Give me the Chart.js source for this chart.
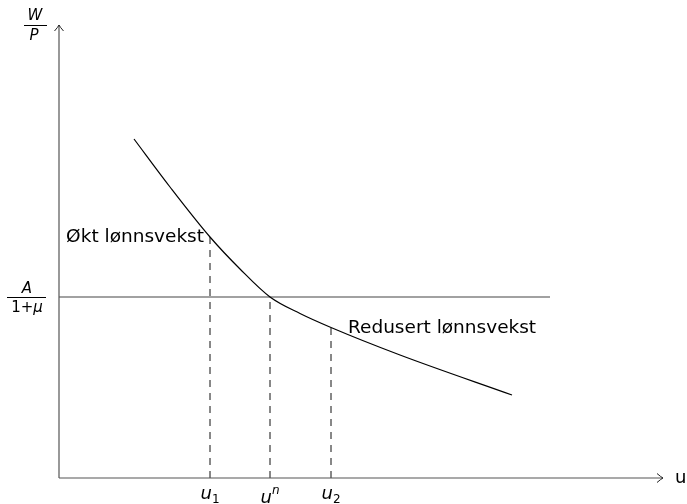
<!DOCTYPE html>
<html>
<head>
<meta charset="utf-8">
<script src="https://cdn.jsdelivr.net/npm/chart.js@4.4.1/dist/chart.umd.min.js"></script>
<style>
html,body{margin:0;padding:0;background:#fff;}
#wrap{width:687px;height:504px;position:relative;}
</style>
</head>
<body>
<div id="wrap"><canvas id="c" width="687" height="504"></canvas></div>
<script>
// Wage-setting curve (x = unemployment u, y = real wage W/P)
const curveU = [7.5, 11.1, 15.1, 18.1, 21.1, 24.1, 27.2, 34.1, 45.3];
const curveW = [33.9, 29.1, 24.1, 20.9, 18.1, 16.45, 15.05, 12.3, 8.3];
// Price-setting line A/(1+mu)
const priceLevel = 18.1;
const priceLineEnd = 49.1;
// Marked unemployment levels
const markU = [15.1, 21.1, 27.2];
const markW = [24.1, 18.1, 15.05];
const markBase = [['u', '1', 'sub'], ['u', 'n', 'sup'], ['u', '2', 'sub']];
const axisMax = { x: 60.4, y: 45.3 };
const curveLabels = ['Økt lønnsvekst', 'Redusert lønnsvekst'];

const curveData = curveU.map((u, i) => ({ x: u, y: curveW[i] }));
const dashSets = markU.map((u, i) => ({
  data: [{ x: u, y: 0 }, { x: u, y: markW[i] }],
  showLine: true, borderColor: '#111', borderWidth: 1, borderDash: [7, 6],
  pointRadius: 0, fill: false
}));

const font = '"DejaVu Sans", sans-serif';

const decor = {
  id: 'decor',
  afterDatasetsDraw(chart) {
    const { ctx, chartArea: a, scales: { x, y } } = chart;
    ctx.save();
    // axes
    ctx.strokeStyle = '#555';
    ctx.lineWidth = 1.2;
    ctx.beginPath();
    ctx.moveTo(a.left, a.bottom); ctx.lineTo(a.right, a.bottom);
    ctx.moveTo(a.left, a.bottom); ctx.lineTo(a.left, a.top);
    ctx.stroke();
    // arrow heads
    ctx.strokeStyle = '#222';
    ctx.lineWidth = 1;
    ctx.beginPath();
    ctx.moveTo(a.right - 6, a.bottom - 4.5); ctx.quadraticCurveTo(a.right - 2, a.bottom - 1, a.right, a.bottom);
    ctx.quadraticCurveTo(a.right - 2, a.bottom + 1, a.right - 6, a.bottom + 4.5);
    ctx.moveTo(a.left - 4.5, a.top + 6); ctx.quadraticCurveTo(a.left - 1, a.top + 2, a.left, a.top);
    ctx.quadraticCurveTo(a.left + 1, a.top + 2, a.left + 4.5, a.top + 6);
    ctx.stroke();

    ctx.fillStyle = '#000';
    ctx.strokeStyle = '#000';
    ctx.textBaseline = 'alphabetic';

    // x axis label
    ctx.font = '18px ' + font;
    ctx.textAlign = 'left';
    ctx.fillText('u', a.right + 12, a.bottom + 5);

    // tick labels u1, un, u2
    markU.forEach((u, i) => {
      const px = x.getPixelForValue(u);
      const [b, s, kind] = markBase[i];
      const isSup = kind === 'sup';
      ctx.font = 'italic 18px ' + font;
      const wb = ctx.measureText(b).width;
      ctx.font = (isSup ? 'italic ' : '') + '12px ' + font;
      const ws = ctx.measureText(s).width;
      const left = px - (wb + ws) / 2;
      const base = isSup ? a.bottom + 25 : a.bottom + 21;
      ctx.font = 'italic 18px ' + font;
      ctx.textAlign = 'left';
      ctx.fillText(b, left, base);
      ctx.font = (isSup ? 'italic ' : '') + '12px ' + font;
      ctx.fillText(s, left + wb, isSup ? base - 9 : base + 4);
    });

    // W/P
    ctx.textAlign = 'center';
    ctx.font = 'italic 15px ' + font;
    ctx.fillText('W', 35, 20);
    ctx.fillText('P', 34, 40);
    ctx.lineWidth = 1;
    ctx.beginPath(); ctx.moveTo(24, 25.5); ctx.lineTo(47, 25.5); ctx.stroke();

    // A/(1+mu)
    const ly = y.getPixelForValue(priceLevel);
    ctx.font = 'italic 15px ' + font;
    ctx.fillText('A', 27, ly - 4);
    ctx.font = '15px ' + font;
    const w1 = ctx.measureText('1+').width;
    ctx.font = 'italic 15px ' + font;
    const w2 = ctx.measureText('μ').width;
    const sx = 27 - (w1 + w2) / 2;
    ctx.textAlign = 'left';
    ctx.font = '15px ' + font;
    ctx.fillText('1+', sx, ly + 15);
    ctx.font = 'italic 15px ' + font;
    ctx.fillText('μ', sx + w1, ly + 15);
    ctx.beginPath(); ctx.moveTo(7, ly + 0.5); ctx.lineTo(46, ly + 0.5); ctx.stroke();

    // curve labels
    ctx.font = '18.5px ' + font;
    ctx.textAlign = 'right';
    ctx.fillText(curveLabels[0], x.getPixelForValue(markU[0]) - 6, y.getPixelForValue(markW[0]) + 5);
    ctx.textAlign = 'left';
    ctx.fillText(curveLabels[1], x.getPixelForValue(markU[2]) + 17, y.getPixelForValue(markW[2]) + 5);
    ctx.restore();
  }
};

new Chart(document.getElementById('c'), {
  type: 'scatter',
  data: {
    datasets: [
      {
        data: curveData, showLine: true, borderColor: '#000', borderWidth: 1.2,
        pointRadius: 0, cubicInterpolationMode: 'monotone', fill: false
      },
      {
        data: [{ x: 0, y: priceLevel }, { x: priceLineEnd, y: priceLevel }],
        showLine: true, borderColor: '#444', borderWidth: 1.2, pointRadius: 0, fill: false
      },
      ...dashSets
    ]
  },
  options: {
    responsive: false,
    animation: false,
    events: [],
    layout: { padding: { left: 59, top: 25, right: 24, bottom: 26 } },
    plugins: { legend: { display: false }, tooltip: { enabled: false } },
    scales: {
      x: { type: 'linear', min: 0, max: axisMax.x, display: false },
      y: { type: 'linear', min: 0, max: axisMax.y, display: false }
    }
  },
  plugins: [decor]
});
</script>
</body>
</html>
